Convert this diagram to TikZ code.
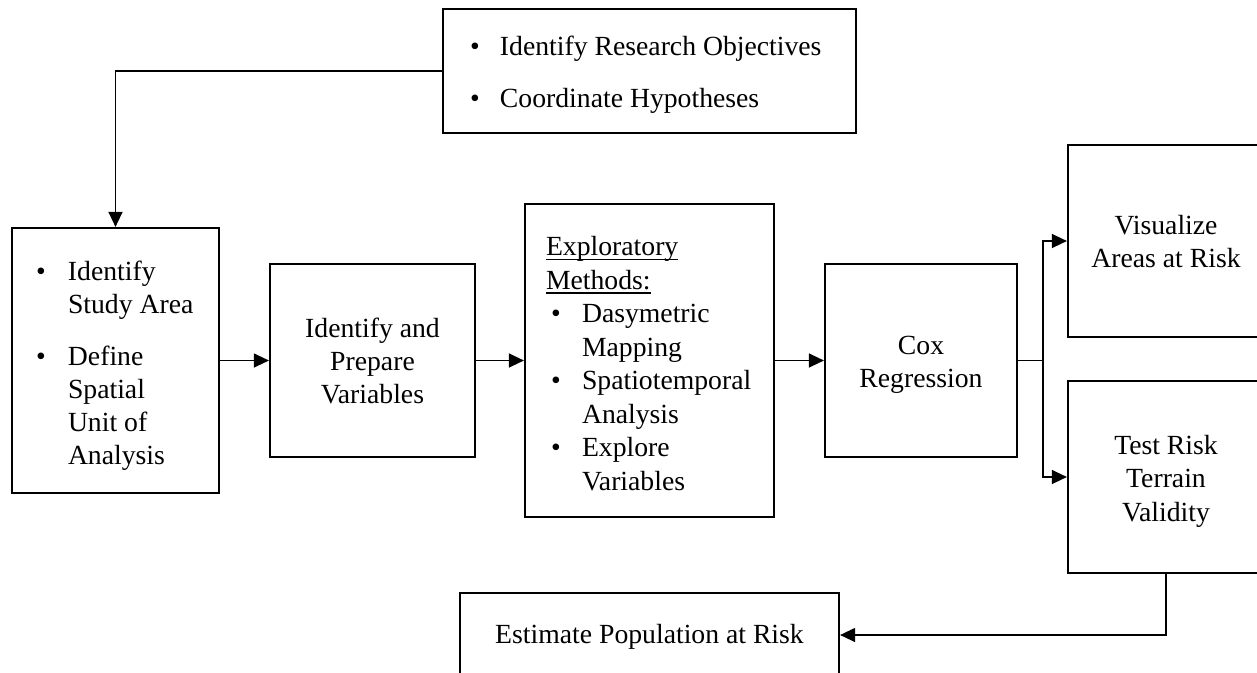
\documentclass[tikz,border=0pt]{standalone}
\usepackage{fontspec}
\setmainfont{Liberation Serif}
\usetikzlibrary{arrows.meta}
\newcommand{\bul}[1][30pt]{\makebox[#1][l]{•}}
\newcommand{\myul}[1]{\leavevmode\sbox0{#1}\rlap{\rule[-4.5pt]{\wd0}{1.2pt}}\usebox0}
% text block: declared height #1 above last baseline, width #2, alignment #3, content #4
\newcommand{\tb}[4]{\raisebox{0pt}[#1][0pt]{\parbox[b]{#2}{#3#4}}}
\begin{document}
\begin{tikzpicture}[x=1pt,y=-1pt,
  box/.style={draw, line width=2.2pt, inner sep=0pt, font=\fontsize{27.7}{33}\selectfont},
  conn/.style={line width=1.3pt},
  arr/.style={conn, -{Triangle[length=15pt,width=14pt]}}]
\useasboundingbox (0,0) rectangle (1257,672);

\node[box, minimum width=413pt, minimum height=124pt] (goals) at (649.5,71)
  {\tb{72pt}{359pt}{\raggedright}{\bul Identify Research Objectives\\[19pt]\bul Coordinate Hypotheses}};

\node[box, minimum width=207pt, minimum height=265pt] (study) at (115.5,360.5)
  {\tb{207pt}{159pt}{\raggedright}{\bul[32pt]Identify\\\hspace*{32pt}\mbox{Study Area}\\[19pt]\bul[32pt]Define\\\hspace*{32pt}Spatial\\\hspace*{32pt}\mbox{Unit of}\\\hspace*{32pt}Analysis}};

\node[box, minimum width=205pt, minimum height=193pt] (prep) at (372.5,360.5)
  {\tb{85pt}{190pt}{\centering}{Identify and\\Prepare\\Variables}};

\node[box, minimum width=249pt, minimum height=313pt,
      font=\fontsize{27.7}{33.5}\selectfont] (expl) at (649.5,360.5)
  {\tb{259pt}{207pt}{\raggedright}{\myul{Exploratory}\\\myul{Methods:}\\\hspace*{5pt}\bul[31pt]Dasymetric\\\hspace*{36pt}Mapping\\\hspace*{5pt}\bul[31pt]Spatiotemporal\\\hspace*{36pt}Analysis\\\hspace*{5pt}\bul[31pt]Explore\\\hspace*{36pt}Variables}};

\node[box, minimum width=192pt, minimum height=193pt] (cox) at (921,360.5)
  {\tb{53pt}{180pt}{\centering}{Cox\\Regression}};

\node[box, minimum width=196pt, minimum height=192pt] (vis) at (1166,241)
  {\tb{52pt}{190pt}{\centering}{Visualize\\Areas at Risk}};

\node[box, minimum width=196pt, minimum height=192pt,
      font=\fontsize{27.7}{33.5}\selectfont] (test) at (1166,477)
  {\tb{88pt}{190pt}{\centering}{Test Risk\\Terrain\\Validity}};

\node[box, minimum width=379pt, minimum height=84pt] (est) at (649.5,635)
  {\tb{16pt}{370pt}{\centering}{Estimate Population at Risk}};

\coordinate (split) at (1043,360.5);

\draw[arr] (goals.west) -| (study.north);
\draw[arr] (study.east) -- (prep.west);
\draw[arr] (prep.east) -- (expl.west);
\draw[arr] (expl.east) -- (cox.west);
\draw[conn] (cox.east) -- (split);
\draw[arr] (split) |- (vis.west);
\draw[arr] (split) |- (test.west);
\draw[arr] (test.south) |- (est.east);
\end{tikzpicture}
\end{document}
